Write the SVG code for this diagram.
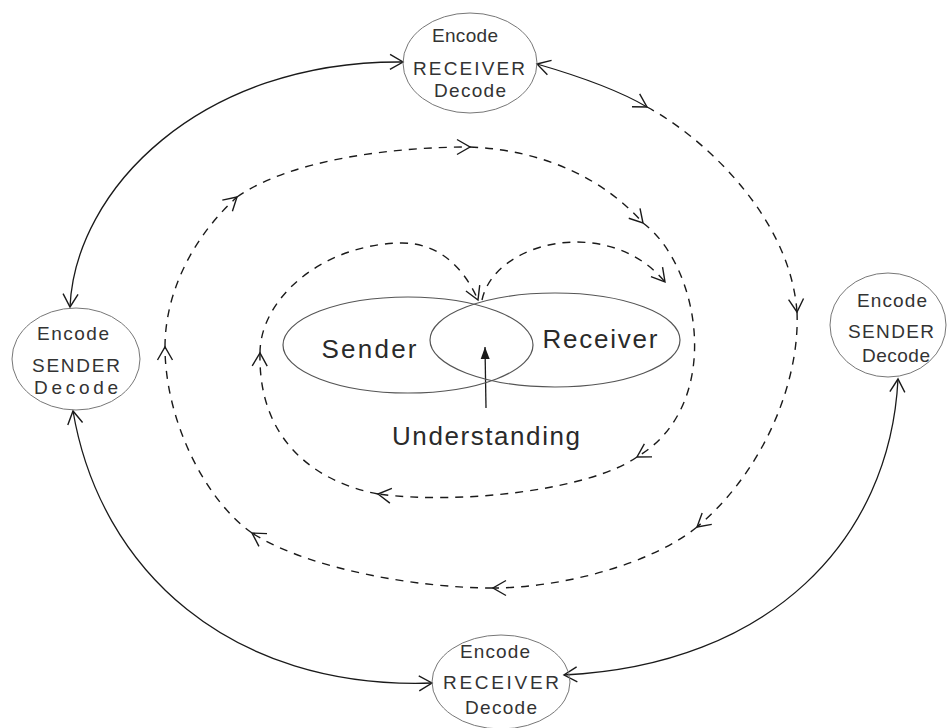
<svg xmlns="http://www.w3.org/2000/svg" width="947" height="728" viewBox="0 0 947 728">
<style>
  .bg { fill: #ffffff; }
  .node { fill: none; stroke: #777; stroke-width: 1; }
  .lens { fill: none; stroke: #555; stroke-width: 1.2; }
  .ntext { font-family: "Liberation Sans", Arial, sans-serif; font-size: 19px; fill: #333; text-anchor: middle; }
  .ctext { font-family: "Liberation Sans", Arial, sans-serif; font-size: 26px; fill: #2a2a2a; text-anchor: middle; }
  .solid { fill: none; stroke: #1a1a1a; stroke-width: 1.3; }
  .dash { fill: none; stroke: #1a1a1a; stroke-width: 1.4; stroke-dasharray: 8 7; }
</style>
<defs>
  <marker id="open" viewBox="-15 -9 17 18" markerWidth="17" markerHeight="18" refX="0" refY="0" orient="auto-start-reverse" markerUnits="userSpaceOnUse">
    <path d="M-13,-7.5 L0,0 L-13,7.5" fill="none" stroke="#1a1a1a" stroke-width="1.4"/>
  </marker>
  <marker id="filled" viewBox="-13 -6 14 12" markerWidth="14" markerHeight="12" refX="0" refY="0" orient="auto" markerUnits="userSpaceOnUse">
    <path d="M-12,-4.5 L0,0 L-12,4.5 Z" fill="#1a1a1a"/>
  </marker>
</defs>
<rect class="bg" x="0" y="0" width="947" height="728"/>

<g id="connectors">
  <!-- outer solid double-headed arcs -->
  <path class="solid" d="M70,307 C75,190 200,60 403,62" marker-start="url(#open)" marker-end="url(#open)"/>
  <path class="solid" d="M537,64 C575,75 615,88 647,107" marker-start="url(#open)" marker-end="url(#open)"/>
  <path class="solid" d="M73,411 C100,570 230,690 432,683" marker-start="url(#open)" marker-end="url(#open)"/>
  <path class="solid" d="M898,379 C890,540 770,665 564,675" marker-start="url(#open)" marker-end="url(#open)"/>

  <!-- dashed spiral -->
  <path class="dash" d="M647,107 C700,135 790,215 797,312" marker-end="url(#open)"/>
  <path class="dash" d="M797,312 C800,380 765,470 697,527" marker-end="url(#open)"/>
  <path class="dash" d="M697,527 C650,565 560,588 493,588" marker-end="url(#open)"/>
  <path class="dash" d="M493,588 C420,588 310,570 252,533" marker-end="url(#open)"/>
  <path class="dash" d="M252,533 C205,500 165,420 165,347" marker-end="url(#open)"/>
  <path class="dash" d="M165,347 C165,290 195,235 237,197" marker-end="url(#open)"/>
  <path class="dash" d="M237,197 C290,160 390,147 470,147" marker-end="url(#open)"/>
  <path class="dash" d="M470,147 C545,150 605,180 643,223" marker-end="url(#open)"/>
  <path class="dash" d="M643,223 C700,265 725,405 637,457" marker-end="url(#open)"/>
  <path class="dash" d="M637,457 C590,490 460,505 378,494" marker-end="url(#open)"/>
  <path class="dash" d="M378,494 C315,482 258,440 260,353" marker-end="url(#open)"/>
  <path class="dash" d="M260,353 C260,300 320,245 400,243 C440,242 465,270 478,300" marker-end="url(#open)"/>
  <path class="dash" d="M482,300 C495,240 610,215 665,282" marker-end="url(#open)"/>

  <!-- understanding arrow -->
  <path class="solid" d="M486,408 L485,347" marker-end="url(#filled)"/>
</g>

<g id="node-receiver-top">
  <ellipse class="node" cx="470" cy="63" rx="67" ry="50"/>
  <text class="ntext" x="465" y="42" textLength="66" lengthAdjust="spacing">Encode</text>
  <text class="ntext" x="469" y="75" textLength="112" lengthAdjust="spacing">RECEIVER</text>
  <text class="ntext" x="470" y="97" textLength="72" lengthAdjust="spacing">Decode</text>
</g>

<g id="node-sender-left">
  <ellipse class="node" cx="76" cy="359" rx="64" ry="51"/>
  <text class="ntext" x="73" y="340" textLength="72" lengthAdjust="spacing">Encode</text>
  <text class="ntext" x="76" y="372" textLength="88" lengthAdjust="spacing">SENDER</text>
  <text class="ntext" x="76" y="394" textLength="84" lengthAdjust="spacing">Decode</text>
</g>

<g id="node-sender-right">
  <ellipse class="node" cx="888" cy="325" rx="58" ry="52"/>
  <text class="ntext" x="892" y="307" textLength="70" lengthAdjust="spacing">Encode</text>
  <text class="ntext" x="891" y="338" textLength="86" lengthAdjust="spacing">SENDER</text>
  <text class="ntext" x="896" y="362" textLength="68" lengthAdjust="spacing">Decode</text>
</g>

<g id="node-receiver-bottom">
  <ellipse class="node" cx="501" cy="682" rx="69" ry="47"/>
  <text class="ntext" x="495" y="658" textLength="70" lengthAdjust="spacing">Encode</text>
  <text class="ntext" x="501" y="689" textLength="116" lengthAdjust="spacing">RECEIVER</text>
  <text class="ntext" x="501" y="714" textLength="72" lengthAdjust="spacing">Decode</text>
</g>

<g id="node-sender-center">
  <ellipse class="lens" cx="408" cy="345" rx="125" ry="48"/>
  <text class="ctext" x="369" y="358" textLength="95" lengthAdjust="spacing">Sender</text>
</g>

<g id="node-receiver-center">
  <ellipse class="lens" cx="555" cy="340" rx="125" ry="47"/>
  <text class="ctext" x="600" y="348" textLength="115" lengthAdjust="spacing">Receiver</text>
</g>

<g id="label-understanding">
  <text class="ctext" x="486" y="445" textLength="188" lengthAdjust="spacing">Understanding</text>
</g>
</svg>
